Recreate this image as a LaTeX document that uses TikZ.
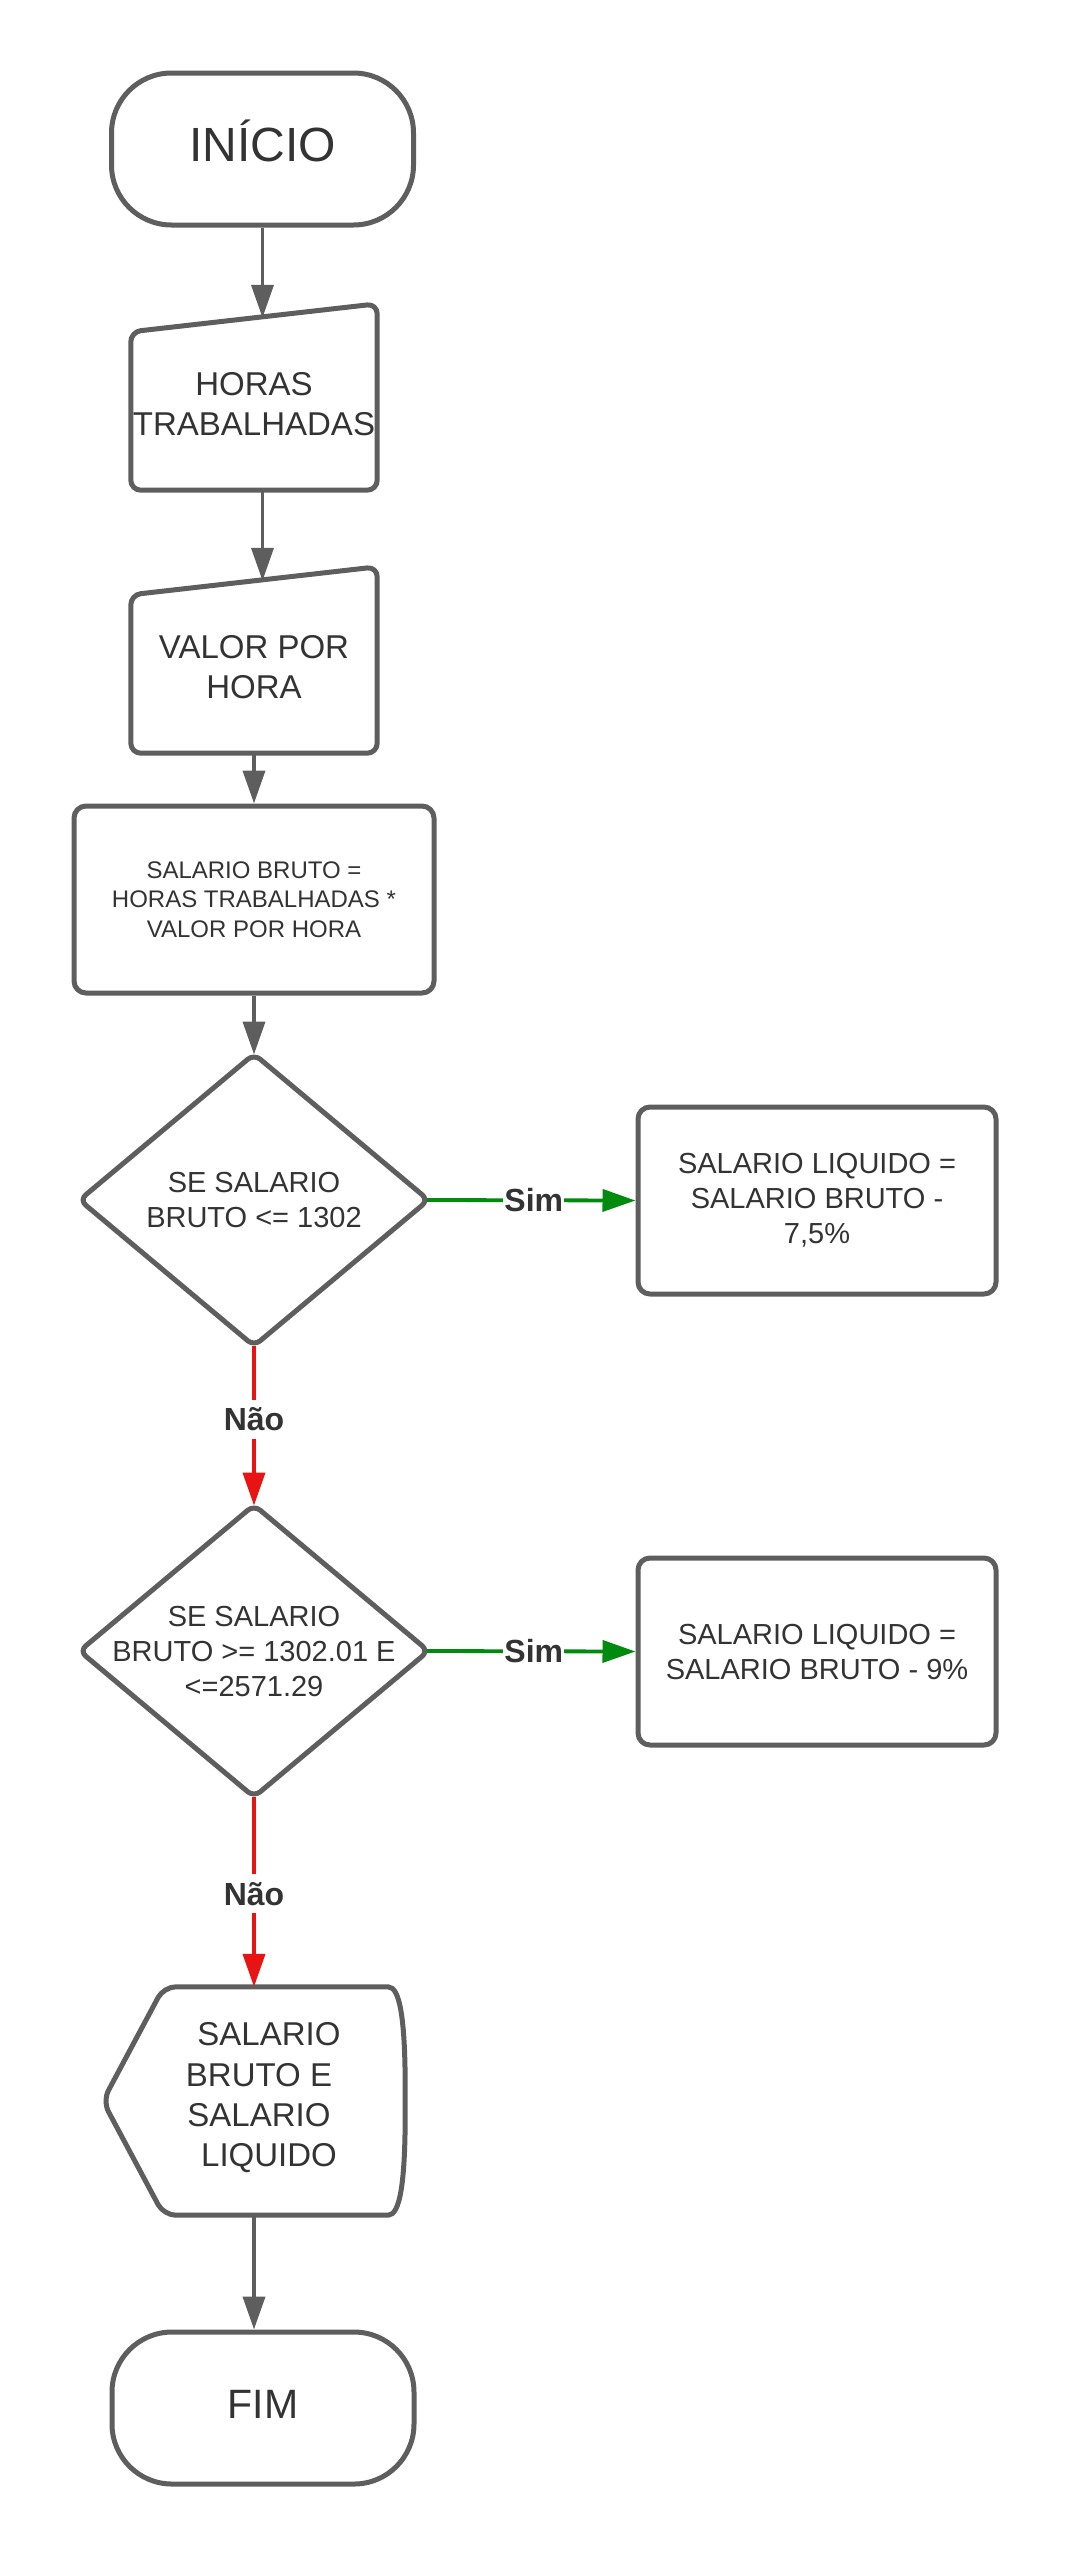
\documentclass[tikz,border=0pt]{standalone}
\usepackage{fontspec}
\setmainfont{Liberation Sans}
\definecolor{linegray}{RGB}{94,94,94}
\definecolor{textgray}{RGB}{51,51,51}
\definecolor{simgreen}{RGB}{0,138,14}
\definecolor{naored}{RGB}{232,19,19}
\usepackage{tikz}
\usetikzlibrary{shapes.geometric,arrows.meta,positioning,calc}

\begin{document}
\begin{tikzpicture}[x=1pt, y=-1pt,
    every node/.style={text=textgray, inner sep=0pt, align=center},
    shapeline/.style={draw=linegray, line width=5pt, line join=round},
    terminal/.style={shapeline, rounded corners=60pt, minimum width=302pt, minimum height=152pt},
    inputbox/.style={minimum width=246pt, minimum height=172pt, font=\fontsize{33}{40}\selectfont},
    process/.style={shapeline, rounded corners=12pt, minimum width=358pt, minimum height=187pt},
    decision/.style={shapeline, diamond, rounded corners=8pt, minimum width=351pt, minimum height=294pt},
    arrowline/.style={draw=linegray, line width=3.8pt, -{Triangle[length=33pt, width=22pt]}},
    rotulo/.style={fill=white, inner xsep=1pt, inner ysep=8pt, font=\bfseries\fontsize{32}{38}\selectfont}
]
            \path[fill=white] (0,0) rectangle (1069,2554);
            \useasboundingbox (0,0) rectangle (1069,2554);

            % Start and end
            \node[terminal, font=\fontsize{48}{58}\selectfont, text height=34pt, text depth=10pt] (inicio) at (262.5,149) {INÍCIO};
            \node[terminal, font=\fontsize{41}{50}\selectfont, text height=29pt, text depth=9pt] (fim) at (263,2408) {FIM};

            % Inputs
            \node[inputbox] (horas) at (254,404) {HORAS\\TRABALHADAS};
            \node[inputbox] (valor) at (254,667) {VALOR POR\\HORA};
            \foreach \n in {horas,valor} {
                \draw[shapeline, rounded corners=10pt] (\n.south west) -- ($(\n.north west)+(0,14)$)
                    -- ($(\n.north east)+(0,-14)$) -- (\n.south east) -- cycle;
            }

            % Calculation
            \node[process, minimum width=360pt, font=\fontsize{24}{29.5}\selectfont] (calculo) at (254,899.5)
                {SALARIO BRUTO =\\HORAS TRABALHADAS *\\VALOR POR HORA};

            % Decisions
            \node[decision] (d1) at (254,1200) {};
            \node[font=\fontsize{29}{35}\selectfont] at (d1) {SE SALARIO\\BRUTO <= 1302};
            \node[decision] (d2) at (254,1651) {};
            \node[font=\fontsize{29}{35}\selectfont] at (d2) {SE SALARIO\\BRUTO >= 1302.01 E\\<=2571.29};

            % Results
            \node[process, font=\fontsize{29}{35}\selectfont] (r1) at (817,1200.5)
                {SALARIO LIQUIDO =\\SALARIO BRUTO -\\7,5\%};
            \node[process, font=\fontsize{29}{35}\selectfont] (r2) at (817,1651.5)
                {SALARIO LIQUIDO =\\SALARIO BRUTO - 9\%};

            % Output
            \node[minimum width=302pt, minimum height=228pt] (saida) at (254,2101) {};
            \draw[shapeline, rounded corners=12pt] (saida.west) -- ($(saida.north west)+(61,0)$)
                -- ($(saida.north east)+(-29,0)$)
                .. controls ($(saida.north east)+(-5,0)$) and ($(saida.east)+(0,-80)$) .. (saida.east)
                .. controls ($(saida.east)+(0,80)$) and ($(saida.south east)+(-5,0)$) .. ($(saida.south east)+(-29,0)$)
                -- ($(saida.south west)+(61,0)$) -- cycle;
            \node[font=\fontsize{33}{40.3}\selectfont] at ($(saida)+(15,-3)$)
                {SALARIO\\BRUTO E\rule{20pt}{0pt}\\SALARIO\rule{20pt}{0pt}\\LIQUIDO};

            % Connectors
            \draw[arrowline] (inicio.south) -- (inicio.south |- horas.north);
            \draw[arrowline] (horas.south -| inicio) -- (valor.north -| inicio);
            \draw[arrowline] (valor.south) -- (calculo.north);
            \draw[arrowline, shorten >=-4pt] (calculo.south) -- (d1.north);
            \draw[arrowline, draw=simgreen, color=simgreen, shorten <=-5pt] (d1.east) -- node[rotulo] {Sim} (r1.west);
            \draw[arrowline, draw=naored, color=naored, shorten <=-4pt, shorten >=-4pt] (d1.south) -- node[rotulo, pos=0.46] {Não} (d2.north);
            \draw[arrowline, draw=simgreen, color=simgreen, shorten <=-5pt] (d2.east) -- node[rotulo] {Sim} (r2.west);
            \draw[arrowline, draw=naored, color=naored, shorten <=-4pt] (d2.south) -- node[rotulo] {Não} (saida.north);
            \draw[arrowline] (saida.south) -- (saida.south |- fim.north);
        \end{tikzpicture}
\end{document}
